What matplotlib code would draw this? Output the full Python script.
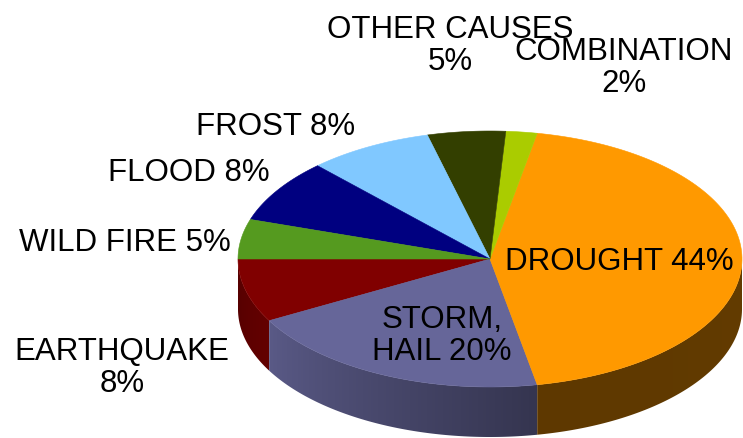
import numpy as np
import matplotlib
matplotlib.use("Agg")
import matplotlib.pyplot as plt
from matplotlib.patches import Polygon
from matplotlib.colors import to_rgb

# causes of loss, listed counter-clockwise starting at 9 o'clock
causes = ["EARTHQUAKE\n8%", "STORM,\nHAIL 20%", "DROUGHT 44%", "COMBINATION\n2%",
          "OTHER CAUSES\n5%", "FROST 8%", "FLOOD 8%", "WILD FIRE 5%"]
shares = [8, 20, 44, 2, 5, 8, 8, 5]
slice_colors = ["#800000", "#666699", "#FF9900", "#AACC00",
                "#333F00", "#80C8FF", "#000080", "#559A1F"]
# (x, y) pixel anchors for the labels
label_pos = [(122, 368), (442, 336), (619, 262), (624, 68),
             (450, 46), (276, 127), (189, 173), (125, 243)]

# side shading: brightness factor at start and end of each slice wall
side_shade = [(0.66, 0.78), (0.88, 0.52), (0.37, 0.41), (0.5, 0.5),
              (0.5, 0.5), (0.5, 0.5), (0.5, 0.5), (0.5, 0.5)]

W, H = 743, 439
cx, cy = 490, 260       # centre of the top face
a, b = 252, 128         # ellipse radii
depth = 50              # height of the cylinder wall

fig = plt.figure(figsize=(W / 100, H / 100), dpi=100)
ax = fig.add_axes([0, 0, 1, 1])
ax.set_xlim(0, W)
ax.set_ylim(H, 0)
ax.axis("off")


def rim(t, dy=0.0):
    return np.column_stack([cx + a * np.cos(t), cy - b * np.sin(t) + dy])


angles = 180 + np.concatenate([[0], np.cumsum(shares)]) * 3.6

# cylinder wall for the front half (180..360 deg), shaded left to right
for i, col in enumerate(slice_colors):
    t0, t1 = angles[i], angles[i + 1]
    lo, hi = max(t0, 180), min(t1, 360)
    if hi <= lo:
        continue
    tt = np.radians(np.linspace(lo, hi, 100))
    pts = np.vstack([rim(tt), rim(tt[::-1], depth)])
    wall = Polygon(pts, closed=True, facecolor="none", edgecolor="none")
    ax.add_patch(wall)

    x0, x1 = pts[:, 0].min(), pts[:, 0].max()
    xs = np.linspace(x0, x1, 200)
    # angle on the rim for each column, mapped to a shade factor
    tcol = 360 - np.degrees(np.arccos(np.clip((xs - cx) / a, -1, 1)))
    s0, s1 = side_shade[i]
    f = s0 + (s1 - s0) * (tcol - t0) / (t1 - t0)
    rgb = np.clip(np.outer(f, to_rgb(col)), 0, 1)[None, :, :]
    y0, y1 = pts[:, 1].min(), pts[:, 1].max()
    im = ax.imshow(rgb, extent=(x0, x1, y1, y0), aspect="auto",
                   interpolation="bilinear", zorder=1)
    im.set_clip_path(wall)

# top face wedges
for i, col in enumerate(slice_colors):
    tt = np.radians(np.linspace(angles[i], angles[i + 1], 120))
    pts = np.vstack([[cx, cy], rim(tt)])
    ax.add_patch(Polygon(pts, closed=True, facecolor=col, edgecolor=col,
                         lw=0.4, zorder=2))

for text, (x, y) in zip(causes, label_pos):
    ax.text(x, y, text, ha="center", va="center", fontsize=22.5,
            family=["Liberation Sans", "DejaVu Sans"], linespacing=1.1,
            zorder=3)

ax.set_xlim(0, W)
ax.set_ylim(H, 0)
fig.savefig("out.png", dpi=100)
